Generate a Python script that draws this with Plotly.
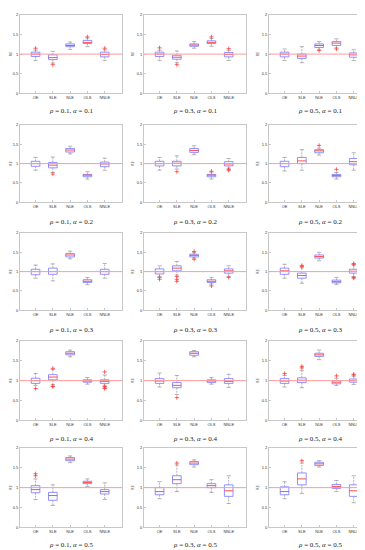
import plotly.graph_objects as go

categories = ["OE", "SLE", "NLE", "OLS", "NNLE"]
rho_values = ["0.1", "0.3", "0.5"]
alpha_values = ["0.1", "0.2", "0.3", "0.4", "0.5"]
y_ticks = [0, 0.5, 1, 1.5, 2]
y_tick_text = ["0", "0.5", "1", "1.5", "2"]
reference_level = 1.0

# panels in row-major order: (alpha row, rho column)
lower_whisker = [
    [0.84, 0.77, 1.12, 1.19, 0.84], [0.84, 0.78, 1.15, 1.20, 0.84], [0.84, 0.78, 1.11, 1.16, 0.84],
    [0.83, 0.77, 1.25, 0.60, 0.83], [0.83, 0.86, 1.23, 0.60, 0.88], [0.81, 0.83, 1.22, 0.60, 0.83],
    [0.83, 0.76, 1.33, 0.66, 0.83], [0.87, 0.91, 1.35, 0.68, 0.87], [0.83, 0.70, 1.28, 0.67, 0.87],
    [0.88, 0.90, 1.60, 0.91, 0.88], [0.84, 0.65, 1.60, 0.91, 0.83], [0.84, 0.82, 1.53, 0.88, 0.90],
    [0.70, 0.55, 1.63, 1.03, 0.70], [0.72, 0.90, 1.52, 0.88, 0.60], [0.72, 0.85, 1.52, 0.90, 0.62],
]
q1 = [
    [0.94, 0.86, 1.19, 1.27, 0.93], [0.94, 0.87, 1.20, 1.27, 0.93], [0.93, 0.89, 1.17, 1.22, 0.92],
    [0.93, 0.89, 1.30, 0.66, 0.92], [0.94, 0.94, 1.29, 0.66, 0.94], [0.92, 1.00, 1.28, 0.66, 0.97],
    [0.92, 0.93, 1.38, 0.72, 0.93], [0.94, 1.02, 1.38, 0.72, 0.96], [0.93, 0.83, 1.35, 0.71, 0.96],
    [0.93, 1.02, 1.65, 0.96, 0.93], [0.93, 0.82, 1.64, 0.95, 0.93], [0.93, 0.95, 1.61, 0.92, 0.96],
    [0.87, 0.68, 1.68, 1.10, 0.84], [0.82, 1.10, 1.58, 1.00, 0.78], [0.82, 1.07, 1.56, 0.98, 0.78],
]
median = [
    [1.00, 0.91, 1.22, 1.30, 0.99], [1.00, 0.92, 1.23, 1.30, 0.99], [1.00, 0.95, 1.22, 1.28, 0.98],
    [1.00, 0.96, 1.35, 0.70, 0.99], [1.00, 1.01, 1.34, 0.70, 0.99], [1.00, 1.07, 1.33, 0.69, 1.05],
    [1.00, 1.00, 1.43, 0.75, 1.00], [1.00, 1.09, 1.42, 0.75, 1.02], [1.02, 0.90, 1.39, 0.74, 1.01],
    [1.00, 1.09, 1.69, 0.99, 0.98], [0.99, 0.88, 1.69, 0.99, 0.98], [0.99, 1.01, 1.65, 0.96, 1.00],
    [0.95, 0.80, 1.72, 1.13, 0.90], [0.90, 1.20, 1.62, 1.05, 0.92], [0.90, 1.22, 1.60, 1.03, 0.92],
]
q3 = [
    [1.05, 0.98, 1.26, 1.35, 1.05], [1.05, 0.97, 1.26, 1.34, 1.04], [1.05, 1.00, 1.26, 1.32, 1.03],
    [1.06, 1.03, 1.39, 0.72, 1.04], [1.06, 1.06, 1.39, 0.72, 1.05], [1.06, 1.16, 1.36, 0.72, 1.13],
    [1.06, 1.09, 1.47, 0.79, 1.06], [1.07, 1.15, 1.45, 0.79, 1.07], [1.09, 0.96, 1.43, 0.78, 1.06],
    [1.06, 1.15, 1.73, 1.02, 1.02], [1.05, 0.95, 1.73, 1.02, 1.05], [1.05, 1.07, 1.69, 1.00, 1.04],
    [1.05, 0.88, 1.76, 1.16, 0.95], [1.00, 1.30, 1.66, 1.10, 1.07], [1.02, 1.37, 1.64, 1.08, 1.07],
]
upper_whisker = [
    [1.10, 1.07, 1.31, 1.41, 1.11], [1.10, 1.08, 1.32, 1.40, 1.10], [1.13, 1.19, 1.32, 1.39, 1.11],
    [1.16, 1.17, 1.45, 0.79, 1.14], [1.16, 1.20, 1.46, 0.78, 1.13], [1.16, 1.36, 1.40, 0.77, 1.28],
    [1.17, 1.20, 1.53, 0.85, 1.21], [1.15, 1.26, 1.49, 0.85, 1.15], [1.19, 1.10, 1.50, 0.85, 1.17],
    [1.18, 1.28, 1.77, 1.08, 1.14], [1.19, 1.13, 1.76, 1.08, 1.16], [1.13, 1.25, 1.77, 1.06, 1.11],
    [1.22, 1.07, 1.80, 1.22, 1.12], [1.15, 1.57, 1.70, 1.20, 1.30], [1.15, 1.62, 1.68, 1.18, 1.30],
]
outliers = [
    [[1.15], [0.73], [], [1.44], [1.15]], [[1.16], [0.73], [], [1.44], [1.14]], [[], [], [1.09], [1.13], []],
    [[], [0.73], [], [], []], [[], [0.79], [], [0.80], [0.83, 0.85]], [[], [], [1.47], [0.85], []],
    [[], [], [], [], []], [[0.85, 0.80], [0.87, 0.80, 0.75], [1.52, 1.32], [0.63], [0.85]],
    [[], [1.16, 1.13], [], [], [1.21, 1.18, 0.85, 0.83]],
    [[0.80], [1.31, 0.86, 0.85], [], [], [1.22, 0.85, 0.82, 0.80]], [[], [0.57], [], [], []],
    [[1.18], [1.36, 1.32], [], [1.12], [1.16, 1.14]],
    [[1.30, 1.35], [], [], [], []], [[], [1.62], [], [], []], [[], [1.68], [], [], []],
]

W, H = 365, 550
col_px = [(12, 114), (136, 238), (261, 363)]
row_px = [(4, 83), (115, 193), (224, 302), (333, 413), (441, 521)]
title_px = [101, 213, 322, 432, 539]

BOX_HALF = 0.25
CAP_HALF = 0.12
BLUE = "#8585ff"
RED = "#ff3b3b"
GRAY = "#808080"

fig = go.Figure()
layout_axes = {}
annotations = []
shapes = []

for p in range(15):
    r, c = divmod(p, 3)
    n = p + 1
    xa = "x" if n == 1 else f"x{n}"
    ya = "y" if n == 1 else f"y{n}"
    xkey = "xaxis" if n == 1 else f"xaxis{n}"
    ykey = "yaxis" if n == 1 else f"yaxis{n}"
    x0, x1 = col_px[c]
    t, b = row_px[r]
    layout_axes[xkey] = dict(
        domain=[x0 / W, x1 / W], anchor=ya, range=[0.1, 6.0],
        tickmode="array", tickvals=list(range(1, 6)), ticktext=categories,
        tickfont=dict(size=4, color="#333333", family="Liberation Sans"),
        showline=True, mirror=True, linecolor="#c8c8c8", linewidth=1,
        showgrid=False, zeroline=False, ticks="inside", ticklen=2, tickcolor="#c8c8c8",
    )
    layout_axes[ykey] = dict(
        domain=[1 - b / H, 1 - t / H], anchor=xa, range=[0, 2],
        tickmode="array", tickvals=y_ticks, ticktext=y_tick_text,
        tickfont=dict(size=4, color="#333333", family="Liberation Sans"),
        showline=True, mirror=True, linecolor="#c8c8c8", linewidth=1,
        showgrid=False, zeroline=False, ticks="inside", ticklen=2, tickcolor="#c8c8c8",
        title=dict(text="RE", font=dict(size=4, color="#333333"), standoff=2),
    )
    shapes.append(dict(type="line", xref=f"{xa} domain", yref=ya, x0=0, x1=1,
                       y0=reference_level, y1=reference_level,
                       line=dict(color="#ff9a9a", width=1)))

    bx, by, mx, my, wx, wy, cx, cy, ox, oy = [], [], [], [], [], [], [], [], [], []
    for k in range(5):
        pos = k + 1
        lo, a, m, qq, hi = (lower_whisker[p][k], q1[p][k], median[p][k],
                            q3[p][k], upper_whisker[p][k])
        bx += [pos - BOX_HALF, pos + BOX_HALF, pos + BOX_HALF, pos - BOX_HALF, pos - BOX_HALF, None]
        by += [a, a, qq, qq, a, None]
        mx += [pos - BOX_HALF, pos + BOX_HALF, None]
        my += [m, m, None]
        wx += [pos, pos, None, pos, pos, None]
        wy += [qq, hi, None, a, lo, None]
        cx += [pos - CAP_HALF, pos + CAP_HALF, None, pos - CAP_HALF, pos + CAP_HALF, None]
        cy += [hi, hi, None, lo, lo, None]
        for v in outliers[p][k]:
            ox.append(pos)
            oy.append(v)
    common = dict(xaxis=xa, yaxis=ya, showlegend=False, hoverinfo="skip")
    fig.add_trace(go.Scatter(x=wx, y=wy, mode="lines",
                             line=dict(color=GRAY, width=0.6, dash="2px,1px"), **common))
    fig.add_trace(go.Scatter(x=cx, y=cy, mode="lines", line=dict(color=GRAY, width=0.6), **common))
    fig.add_trace(go.Scatter(x=bx, y=by, mode="lines", line=dict(color=BLUE, width=0.9), **common))
    fig.add_trace(go.Scatter(x=mx, y=my, mode="lines", line=dict(color=RED, width=0.9), **common))
    fig.add_trace(go.Scatter(x=ox, y=oy, mode="markers",
                             marker=dict(symbol="cross-thin", size=3, color=RED,
                                         line=dict(color=RED, width=0.8)), **common))

    annotations.append(dict(
        text=f"<i>ρ</i> = {rho_values[c]}, <i>α</i> = {alpha_values[r]}",
        x=(x0 + x1) / 2 / W, y=1 - title_px[r] / H, xref="paper", yref="paper",
        showarrow=False, xanchor="center", yanchor="middle",
        font=dict(size=7, family="Liberation Serif", color="#222222"),
    ))

fig.update_layout(
    width=W, height=H, margin=dict(l=0, r=0, t=0, b=0),
    paper_bgcolor="white", plot_bgcolor="white",
    annotations=annotations, shapes=shapes, **layout_axes,
)
fig.write_html("out.html")
